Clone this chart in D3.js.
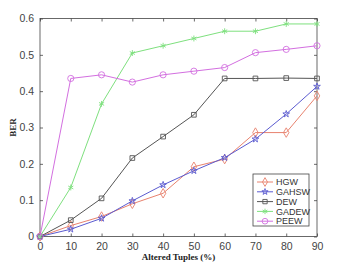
<!DOCTYPE html>
<html>
<head>
<meta charset="utf-8">
<script src="https://cdn.jsdelivr.net/npm/d3@7"></script>
<style>
  body { margin: 0; background: #fff; }
  .tick text { font-family: "Liberation Sans", Arial, sans-serif; font-size: 10.5px; fill: #444; }
  .axis-title { font-family: "Liberation Serif", "Times New Roman", serif; font-weight: bold; font-size: 9px; fill: #222; }
  .legend text { font-family: "Liberation Sans", Arial, sans-serif; font-size: 9px; fill: #333; }
</style>
</head>
<body>
<div id="chart"></div>
<script>
// altered tuples (%)
const tuples = [0, 10, 20, 30, 40, 50, 60, 70, 80, 90];
const yTicks = [0, 0.1, 0.2, 0.3, 0.4, 0.5, 0.6];

const hgw   = [0, 0.030, 0.055, 0.090, 0.119, 0.192, 0.213, 0.286, 0.286, 0.387];
const gahsw = [0, 0.020, 0.050, 0.098, 0.142, 0.181, 0.217, 0.268, 0.337, 0.413];
const dew   = [0, 0.045, 0.105, 0.216, 0.275, 0.335, 0.435, 0.435, 0.436, 0.435];
const gadew = [0, 0.135, 0.365, 0.505, 0.525, 0.545, 0.565, 0.565, 0.585, 0.585];
const peew  = [0, 0.435, 0.445, 0.425, 0.445, 0.455, 0.465, 0.506, 0.515, 0.525];

const seriesNames = ["HGW", "GAHSW", "DEW", "GADEW", "PEEW"];
const seriesVals = [hgw, gahsw, dew, gadew, peew];
const colors = ["#e8826e", "#5b5bd0", "#555555", "#7ee07e", "#d36fe0"];
const symbols = [d3.symbolDiamond, d3.symbolStar, d3.symbolSquare, d3.symbolAsterisk, d3.symbolCircle];
const symSizes = [26, 14, 22, 24, 30];

const W = 344, H = 275;
const margin = {top: 18.5, right: 27, bottom: 38.5, left: 40};
const width = W - margin.left - margin.right;
const height = H - margin.top - margin.bottom;

const svg = d3.select("#chart").append("svg")
    .attr("width", W)
    .attr("height", H);

const g = svg.append("g")
    .attr("transform", `translate(${margin.left},${margin.top})`);

const x = d3.scaleLinear().domain([0, 90]).range([0, width]);
const y = d3.scaleLinear().domain([0, 0.6]).range([height, 0]);

// axes, ticks inside like matlab
const xAxis = d3.axisBottom(x).tickValues(tuples).tickSize(-3).tickPadding(6).tickFormat(d3.format("d"));
const yAxis = d3.axisLeft(y).tickValues(yTicks).tickSize(-3).tickPadding(6).tickFormat(d => d === 0 ? "0" : d3.format(".1f")(d));

g.append("g").attr("transform", `translate(0,${height})`).call(xAxis)
    .call(a => a.select(".domain").remove());
g.append("g").call(yAxis)
    .call(a => a.select(".domain").remove());
g.append("g").call(d3.axisTop(x).tickValues(tuples).tickSize(-3).tickFormat(""))
    .call(a => a.select(".domain").remove());
g.append("g").attr("transform", `translate(${width},0)`)
    .call(d3.axisRight(y).tickValues(yTicks).tickSize(-3).tickFormat(""))
    .call(a => a.select(".domain").remove());
g.selectAll(".tick line").attr("stroke", "#444").attr("stroke-width", 0.8);

g.append("rect")
    .attr("width", width).attr("height", height)
    .attr("fill", "none").attr("stroke", "#444").attr("stroke-width", 0.8);

// lines and markers
const line = d3.line().x((d, i) => x(tuples[i])).y(d => y(d));

seriesVals.forEach((vals, k) => {
    g.append("path")
        .datum(vals)
        .attr("fill", "none")
        .attr("stroke", colors[k])
        .attr("stroke-width", 1)
        .attr("d", line);
    g.selectAll(".m" + k)
        .data(vals)
        .enter().append("path")
        .attr("class", "m" + k)
        .attr("transform", (d, i) => `translate(${x(tuples[i])},${y(d)})`)
        .attr("d", d3.symbol().type(symbols[k]).size(symSizes[k]))
        .attr("fill", "none")
        .attr("stroke", colors[k])
        .attr("stroke-width", 0.9);
});

// axis titles
svg.append("text")
    .attr("class", "axis-title")
    .attr("x", margin.left + width / 2)
    .attr("y", 260)
    .attr("text-anchor", "middle")
    .text("Altered Tuples (%)");

svg.append("text")
    .attr("class", "axis-title")
    .attr("transform", `translate(16,${margin.top + height / 2}) rotate(-90)`)
    .attr("text-anchor", "middle")
    .text("BER");

// legend
const legend = svg.append("g").attr("class", "legend").attr("transform", "translate(253,174)");
legend.append("rect")
    .attr("width", 56).attr("height", 52)
    .attr("fill", "#fff").attr("stroke", "#444").attr("stroke-width", 0.8);
seriesNames.forEach((name, k) => {
    const ly = 8 + k * 9.8;
    legend.append("line")
        .attr("x1", 4).attr("x2", 20).attr("y1", ly).attr("y2", ly)
        .attr("stroke", colors[k]).attr("stroke-width", 1);
    legend.append("path")
        .attr("transform", `translate(12,${ly})`)
        .attr("d", d3.symbol().type(symbols[k]).size(symSizes[k] * 0.85))
        .attr("fill", "none").attr("stroke", colors[k]).attr("stroke-width", 0.9);
    legend.append("text")
        .attr("x", 23).attr("y", ly + 3.2)
        .text(name);
});
</script>
</body>
</html>
